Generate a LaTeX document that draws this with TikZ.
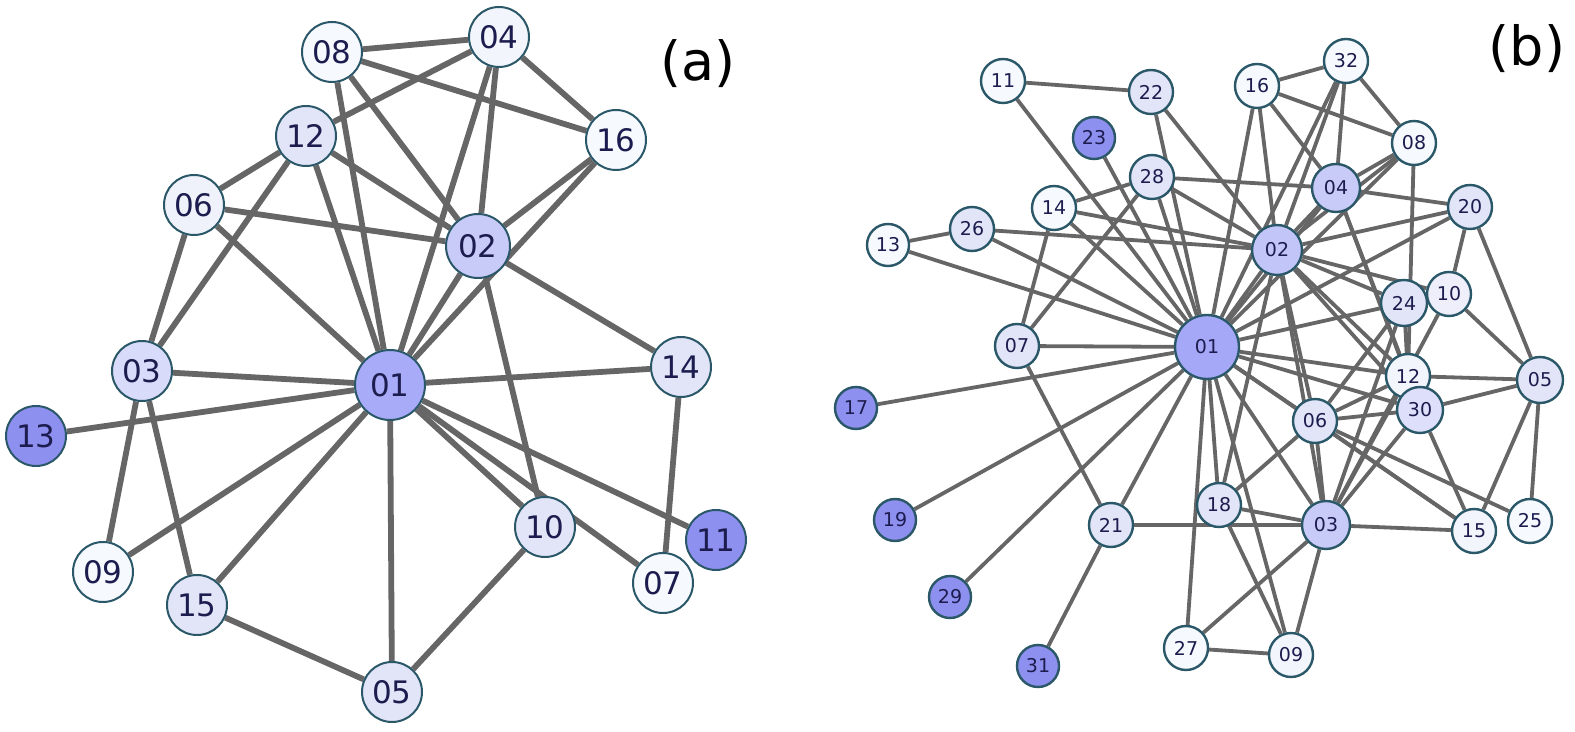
\documentclass[tikz,border=0pt]{standalone}
\usepackage{fontspec}
\setmainfont{DejaVu Sans}
\usetikzlibrary{backgrounds}
\definecolor{edgegray}{HTML}{666666}
\definecolor{rimteal}{HTML}{2B5868}
\definecolor{labelnavy}{HTML}{1C1C4E}
\definecolor{fillwhite}{HTML}{F6FAFF}
\definecolor{filllight}{HTML}{E2E5F8}
\definecolor{fillmid}{HTML}{C8CBF8}
\definecolor{fillhub}{HTML}{A8ABF8}
\definecolor{filldark}{HTML}{8E90F0}
\tikzset{
	vtx/.style={circle, draw=rimteal, inner sep=0pt, text=labelnavy},
	avtx/.style={vtx, line width=1pt, minimum size=30pt, font=\fontsize{15.5}{15.5}\selectfont},
	bvtx/.style={vtx, line width=1.2pt, minimum size=22pt, font=\fontsize{9.5}{9.5}\selectfont},
	lvw/.style={fill=fillwhite},
	lvl/.style={fill=filllight},
	lvm/.style={fill=fillmid},
	lvh/.style={fill=fillhub},
	lvd/.style={fill=filldark},
	aedge/.style={draw=edgegray, line width=2.9pt},
	bedge/.style={draw=edgegray, line width=1.9pt},
}
\begin{document}
\begin{tikzpicture}[x=0.5pt, y=-0.5pt]
		\useasboundingbox (0,0) rectangle (1575,732);
		% (a)
		\node[avtx, lvw] (a08) at (332,52) {08};
		\node[avtx, lvw, fill=filllight!40] (a04) at (499,37) {04};
		\node[avtx, lvl] (a12) at (306,136) {12};
		\node[avtx, lvw] (a16) at (616,140) {16};
		\node[avtx, lvw, fill=filllight!50] (a06) at (194,205) {06};
		\node[avtx, lvm, minimum size=32pt] (a02) at (478,246) {02};
		\node[avtx, lvl, fill=fillmid!70] (a03) at (142,371) {03};
		\node[avtx, lvh, minimum size=35pt] (a01) at (390,385) {01};
		\node[avtx, lvl] (a14) at (681,367) {14};
		\node[avtx, lvd] (a13) at (36,436) {13};
		\node[avtx, lvl] (a10) at (545,527) {10};
		\node[avtx, lvd] (a11) at (716,540) {11};
		\node[avtx, lvw] (a09) at (103,572) {09};
		\node[avtx, lvw] (a07) at (663,583) {07};
		\node[avtx, lvl] (a15) at (197,605) {15};
		\node[avtx, lvl] (a05) at (392,692) {05};
		\node[font=\fontsize{27}{27}\selectfont] (alabel) at (698,64) {(a)};
		\begin{scope}[on background layer]
			\foreach \u/\v in {08/04, 08/16, 08/02, 08/01, 04/12, 04/16, 04/02, 04/01,
					12/06, 12/03, 12/01, 12/02, 16/02, 16/01, 06/02, 06/03, 06/01,
					02/01, 02/14, 02/10, 03/01, 03/09, 03/15, 13/01, 01/14, 01/10,
					01/07, 01/11, 01/05, 01/15, 01/09, 14/07, 10/05, 15/05}{
					\draw[aedge] (a\u) -- (a\v);
				};
		\end{scope}
		% (b)
		\node[bvtx, lvw] (b11) at (1003,81) {11};
		\node[bvtx, lvl] (b22) at (1151,92) {22};
		\node[bvtx, lvd, minimum size=21pt] (b23) at (1094,138) {23};
		\node[bvtx, lvw] (b16) at (1257,86) {16};
		\node[bvtx, lvw] (b32) at (1346,61) {32};
		\node[bvtx, lvw] (b08) at (1414,143) {08};
		\node[bvtx, lvl] (b28) at (1152,177) {28};
		\node[bvtx, lvm, minimum size=24pt] (b04) at (1336,188) {04};
		\node[bvtx, lvl] (b20) at (1470,207) {20};
		\node[bvtx, lvw] (b14) at (1054,208) {14};
		\node[bvtx, lvl] (b26) at (972,229) {26};
		\node[bvtx, lvw, minimum size=21pt] (b13) at (888,245) {13};
		\node[bvtx, lvm, fill=fillmid!80!fillhub, minimum size=25pt] (b02) at (1277,250) {02};
		\node[bvtx, lvw, fill=filllight!60] (b10) at (1449,294) {10};
		\node[bvtx, lvl, minimum size=23pt] (b24) at (1404,303) {24};
		\node[bvtx, lvl] (b07) at (1017,346) {07};
		\node[bvtx, lvh, fill=fillhub!90!filldark, minimum size=32pt] (b01) at (1207,347) {01};
		\node[bvtx, lvw, fill=filllight!40] (b12) at (1408,376) {12};
		\node[bvtx, lvl, minimum size=23pt] (b05) at (1540,380) {05};
		\node[bvtx, lvm, fill=fillmid!60, minimum size=23pt] (b30) at (1420,410) {30};
		\node[bvtx, lvl] (b06) at (1315,421) {06};
		\node[bvtx, lvd, minimum size=21pt] (b17) at (856,408) {17};
		\node[bvtx, lvl] (b18) at (1219,505) {18};
		\node[bvtx, lvm, minimum size=24pt] (b03) at (1326,525) {03};
		\node[bvtx, lvl] (b21) at (1111,525) {21};
		\node[bvtx, lvd, minimum size=21pt] (b19) at (895,520) {19};
		\node[bvtx, lvw, fill=filllight!40] (b15) at (1474,531) {15};
		\node[bvtx, lvw] (b25) at (1530,521) {25};
		\node[bvtx, lvd, minimum size=21pt] (b29) at (950,597) {29};
		\node[bvtx, lvw] (b27) at (1186,648) {27};
		\node[bvtx, lvw, fill=filllight!40] (b09) at (1291,655) {09};
		\node[bvtx, lvd, minimum size=21pt] (b31) at (1038,666) {31};
		\node[font=\fontsize{27}{27}\selectfont] (blabel) at (1527,49) {(b)};
		\begin{scope}[on background layer]
			\foreach \u/\v in {11/22, 11/01, 22/02, 22/01, 23/01, 28/04, 28/02, 28/01, 28/07,
					28/14, 14/02, 14/01, 14/07, 26/13, 26/02, 26/01, 13/01, 07/01, 07/21,
					17/01, 19/01, 29/01, 21/01, 31/21, 21/03, 16/32, 16/08, 16/04, 16/02,
					16/01, 32/08, 32/04, 32/02, 32/01, 08/04, 08/02, 08/01, 08/12, 04/20,
					04/02, 04/01, 04/12, 04/30, 20/02, 20/01, 20/10, 20/05, 02/24, 02/12,
					02/30, 02/06, 02/03, 02/18, 02/01, 02/10, 10/05, 10/03, 24/01, 24/06,
					24/03, 24/12, 01/12, 01/30, 01/06, 01/03, 01/18, 01/09, 01/27, 01/15,
					12/05, 12/06, 12/03, 30/05, 30/06, 30/03, 30/15, 06/03, 06/18, 06/15,
					06/25, 05/15, 05/25, 03/15, 03/18, 03/27, 03/09, 18/09, 27/09}{
					\draw[bedge] (b\u) -- (b\v);
				};
		\end{scope}
	\end{tikzpicture}
\end{document}
